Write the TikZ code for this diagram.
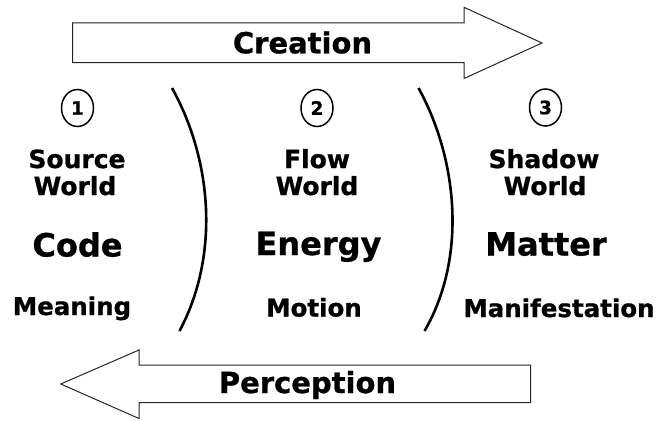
\documentclass[tikz,border=0pt]{standalone}
\usepackage{fontspec}
\setmainfont{DejaVu Sans}[BoldFeatures={FakeBold=0.9}]
\usetikzlibrary{shapes.geometric}
\begin{document}
\begin{tikzpicture}[x=1pt,y=-1pt,
  bigarrow/.style={draw=black!85,line width=1pt,fill=white},
  divider/.style={draw=black,line width=2.6pt},
  numcirc/.style={ellipse,draw=black,line width=1.5pt,minimum width=32pt,minimum height=37pt,inner sep=0pt,font=\fontsize{18.5}{18.5}\selectfont\bfseries},
  arrowlabel/.style={anchor=base,inner sep=0pt,font=\fontsize{29}{29}\selectfont\bfseries},
  worldlabel/.style={anchor=base,inner sep=0pt,font=\fontsize{25}{25}\selectfont\bfseries},
  biglabel/.style={anchor=base,inner sep=0pt,font=\fontsize{32}{32}\selectfont\bfseries},
  smalllabel/.style={anchor=base,inner sep=0pt,font=\fontsize{24.5}{24.5}\selectfont\bfseries}]
\useasboundingbox (0,0) rectangle (666,420);
% top arrow
\draw[bigarrow] (72.7,23) -- (464,23) -- (464,7.3) -- (542,43) -- (464,78.5) -- (464,62.7) -- (72.7,62.7) -- cycle;
\node[arrowlabel] (creation) at (302.5,53.3) {Creation};
% bottom arrow
\draw[bigarrow] (530.7,365) -- (139,365) -- (139,350) -- (60.7,384) -- (139,418.5) -- (139,402.7) -- (530.7,402.7) -- cycle;
\node[arrowlabel] (perception) at (307.5,393) {Perception};
% dividers
\coordinate (d1a) at (172,88);
\coordinate (d1b) at (179.5,331);
\coordinate (d2a) at (418.5,88);
\coordinate (d2b) at (424.5,331);
\draw[divider] (d1a) .. controls (212,160) and (220,255) .. (d1b);
\draw[divider] (d2a) .. controls (458,160) and (467,258) .. (d2b);
% circles
\node[numcirc] (n1) at (77.5,108) {1};
\node[numcirc] (n2) at (317,108) {2};
\node[numcirc] (n3) at (545.5,107.5) {3};
% world names
\node[worldlabel] (s1) at (77,168) {Source};
\node[worldlabel] (w1) at (75,195) {World};
\node[worldlabel] (s2) at (317,168) {Flow};
\node[worldlabel] (w2) at (317,195) {World};
\node[worldlabel] (s3) at (544,168) {Shadow};
\node[worldlabel] (w3) at (545,195) {World};
% big words
\node[biglabel] (code) at (77.5,256.5) {Code};
\node[biglabel] (energy) at (318.5,255) {Energy};
\node[biglabel] (matter) at (546,255.5) {Matter};
% small words
\node[smalllabel] (meaning) at (72,315) {Meaning};
\node[smalllabel] (motion) at (314,316.5) {Motion};
\node[smalllabel] (manif) at (559,317) {Manifestation};
\end{tikzpicture}
\end{document}
